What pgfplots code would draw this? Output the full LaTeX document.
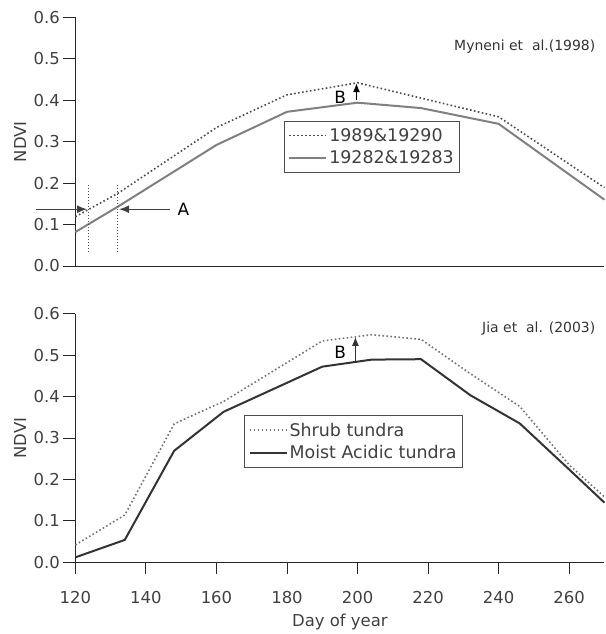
\documentclass[border=0pt]{standalone}
\usepackage{fontspec}
\setmainfont{DejaVu Sans}
\usepackage{pgfplots}
\pgfplotsset{compat=1.18}
\usetikzlibrary{arrows.meta}

\pgfplotsset{
  ndvi/.style={
    scale only axis, width=529bp, height=248.7bp,
    xmin=120, xmax=270, ymin=0, ymax=0.6,
    axis x line*=bottom, axis y line*=left,
    axis line style={line width=0.9pt, black!85},
    tick align=outside, major tick length=12bp,
    tick style={line width=0.9pt, black!85},
    ytick={0,0.1,0.2,0.3,0.4,0.5,0.6},
    yticklabel style={/pgf/number format/fixed, /pgf/number format/fixed zerofill,
      /pgf/number format/precision=1},
    /pgf/number format/assume math mode=true,
    tick label style={font=\fontsize{16.5}{16.5}\selectfont, text=black!75},
    clip=false,
    ylabel={NDVI},
    ylabel style={at={(axis description cs:-0.1047,0.5)}, anchor=center,
      font=\fontsize{16.5}{16.5}\selectfont, text=black!75},
    legend style={draw=black!70, line width=0.9pt, anchor=north west,
      font=\fontsize{17.5}{17.5}\selectfont, text=black!75,
      inner xsep=4bp, inner ysep=5bp, row sep=4bp, cells={anchor=west}},
    legend image code/.code={\draw[#1] (0bp,0bp) -- (37bp,0bp);},
  },
  solidline/.style={line width=2bp},
  dotline/.style={line width=1.6bp, dash pattern=on 1.6bp off 2.4bp},
}

\begin{document}
\begin{tikzpicture}
% Myneni et al. (1998)
\begin{axis}[ndvi, name=top, at={(0,0)}, anchor=south west,
    xtick=\empty,
    legend style={at={(0.394,0.584)}}]
  \addplot[dotline, black!70] coordinates {
    (120,0.119)(132,0.175)(160,0.334)(180,0.413)(200,0.442)(240,0.360)(270,0.189)};
  \addlegendentry{1989\&19290}
  \addplot[solidline, black!50] coordinates {
    (120,0.082)(132,0.143)(160,0.292)(180,0.372)(200,0.394)(218,0.381)(240,0.343)(270,0.160)};
  \addlegendentry{19282\&19283}

  \draw[black!70, line width=1bp, dotted] (axis cs:123.7,0.195) -- (axis cs:123.7,0.0345);
  \draw[black!70, line width=1bp, dotted] (axis cs:131.9,0.195) -- (axis cs:131.9,0.0345);
  \draw[black!75, line width=1.4bp, -{Latex[length=10bp,width=8bp]}]
    (axis cs:108.8,0.137) -- (axis cs:123.3,0.137);
  \draw[black!75, line width=1.4bp, -{Latex[length=10bp,width=8bp]}]
    (axis cs:146.8,0.137) -- (axis cs:132.4,0.137);
  \node[font=\fontsize{17}{17}\selectfont] at (axis cs:150.6,0.137) {A};
  \node[font=\fontsize{17}{17}\selectfont] at (axis cs:195.1,0.407) {B};
  \draw[black, line width=1.2bp, -{Latex[length=9bp,width=7bp]}]
    (axis cs:199.7,0.4) -- (axis cs:199.7,0.441);
  \node[anchor=east, font=\fontsize{14}{14}\selectfont, text=black!80]
    at (axis cs:268.4,0.528) {Myneni et\ \ al.(1998)};
\end{axis}

% Jia et al. (2003)
\begin{axis}[ndvi, name=bot, at={(0,-296.3bp)}, anchor=south west,
    xtick={120,140,160,180,200,220,240,260},
    xticklabel style={yshift=-13bp},
    xlabel={Day of year},
    xlabel style={at={(axis description cs:0.5,-0.2388)}, anchor=center,
      font=\fontsize{16.5}{16.5}\selectfont, text=black!75},
    legend style={at={(0.319,0.591)}}]
  \addplot[dotline, black!55] coordinates {
    (120,0.042)(134,0.114)(148,0.334)(162,0.388)(190,0.534)(204,0.549)(218,0.538)
    (232,0.455)(246,0.376)(260,0.235)(270,0.158)};
  \addlegendentry{Shrub tundra}
  \addplot[solidline, black!80] coordinates {
    (120,0.012)(134,0.054)(148,0.269)(162,0.363)(190,0.472)(204,0.489)(218,0.490)
    (232,0.403)(246,0.335)(260,0.224)(270,0.144)};
  \addlegendentry{Moist Acidic tundra}

  \node[font=\fontsize{17}{17}\selectfont] at (axis cs:195.1,0.506) {B};
  \draw[black!80, line width=1.2bp, -{Latex[length=9bp,width=7bp]}]
    (axis cs:199.4,0.486) -- (axis cs:199.4,0.544);
  \node[anchor=east, font=\fontsize{14}{14}\selectfont, text=black!80]
    at (axis cs:268.4,0.5645) {Jia et\ \ al. (2003)};
\end{axis}
\pgfresetboundingbox
\path[use as bounding box] (-75.4bp,-368bp) rectangle (530.6bp,266bp);
\end{tikzpicture}
\end{document}
